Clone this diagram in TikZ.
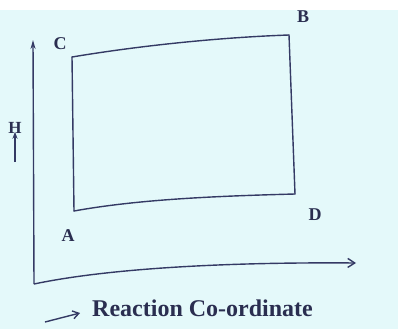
\documentclass[tikz,border=0pt]{standalone}
\usepackage{fontspec}
\setmainfont{Liberation Serif}
\usetikzlibrary{arrows.meta, positioning}

\definecolor{paper}{RGB}{228,249,250}
\definecolor{ink}{RGB}{52,58,100}

\begin{document}
\begin{tikzpicture}[
  x=1pt, y=-1pt,
  edge/.style={draw=ink, line width=1.4pt, line cap=round},
  axis/.style={draw=ink, line width=1.4pt},
  lbl/.style={text=ink!80!black, font=\fontsize{18}{20}\selectfont\bfseries, inner sep=0pt},
  axislbl/.style={text=ink!80!black, font=\fontsize{24}{26}\selectfont\bfseries, inner sep=0pt}
]

% === Page ===
\useasboundingbox (0,0) rectangle (398,329);
\fill[paper] (0,10) rectangle (398,329);
\fill[white] (0,0) rectangle (398,10);

% === Corners of the cycle ===
\coordinate (A) at (74,211);
\coordinate (C) at (72,57);
\coordinate (B) at (289,35);
\coordinate (D) at (295,194);

% === Axes ===
\coordinate (O) at (34,284);
\coordinate (ytop) at (33,40);
\coordinate (xend) at (356,263);

\draw[axis, -{Stealth[length=9pt, width=5pt]}] (O) -- (ytop);
\draw[axis, -{Straight Barb[length=7pt, width=9pt]}]
  (O) .. controls (110,268) and (230,262) .. (xend);

% === Cycle ===
\draw[edge] (A) -- (C);
\draw[edge] (C) .. controls (150,44) and (230,37) .. (B);
\draw[edge] (B) -- (D);
\draw[edge] (D) .. controls (220,196) and (140,199) .. (A);

% === Labels ===
\node[lbl] (lA) at (68,236) {A};
\node[lbl] (lB) at (303,17) {B};
\node[lbl] (lC) at (60,44) {C};
\node[lbl] (lD) at (315,215) {D};

\node[lbl, font=\fontsize{17}{19}\selectfont\bfseries] (lH) at (15,128) {H};
\coordinate (hlo) at (15,162);
\draw[axis, line width=1.3pt, -{Stealth[length=7pt, width=5pt]}] (hlo) -- ([yshift=2pt]lH.south);

\node[axislbl, anchor=west] (rc) at (92,308) {Reaction Co-ordinate};
\coordinate (rcstart) at (45,322);
\coordinate (rcend) at (80,313);
\draw[axis, line width=1.4pt, -{Straight Barb[length=6pt, width=8pt]}]
  (rcstart) -- (rcend);

\end{tikzpicture}
\end{document}
